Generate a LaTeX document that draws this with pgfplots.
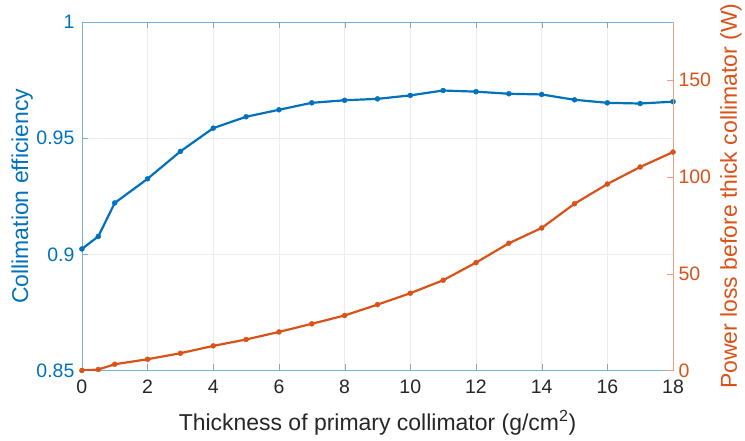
\documentclass[border=0pt]{standalone}
\usepackage{pgfplots}
\pgfplotsset{compat=1.18}
\usepackage{fontspec}
\setmainfont{Liberation Sans}
\definecolor{mblue}{RGB}{0,114,189}
\definecolor{morange}{RGB}{217,83,25}
\definecolor{tickgray}{RGB}{38,38,38}

\begin{document}
\begin{tikzpicture}
\pgfplotsset{
  common/.style={
    scale only axis, width=592pt, height=349pt,
    xmin=0, xmax=18, xtick={0,2,...,18},
    tick align=inside, major tick length=6pt,
    tick label style={font=\fontsize{19.5}{22}\selectfont,
      /pgf/number format/assume math mode=true},
    label style={font=\fontsize{23}{27}\selectfont},
  }
}
\begin{axis}[common,
  ymin=0.85, ymax=1, ytick={0.85,0.9,0.95,1},
  yticklabels={0.85,0.9,0.95,1},
  ytick pos=left,
  xmajorgrids, ymajorgrids,
  grid style={gray!15, line width=0.5pt},
  x axis line style={gray!75},
  y axis line style={mblue!55},
  xtick style={gray!75},
  ytick style={mblue!55},
  xticklabel style={text=tickgray, yshift=-6pt},
  yticklabel style={text=mblue, xshift=-4pt},
  xlabel={Thickness of primary collimator (g/cm\textsuperscript{2})},
  xlabel style={text=tickgray, at={(axis description cs:0.5,-0.149)}, anchor=center},
  ylabel={Collimation efficiency},
  ylabel style={text=mblue, at={(axis description cs:-0.101,0.5)}, anchor=center},
]
\coordinate (O) at (rel axis cs:0,0);
\addplot[mblue, line width=2.2pt, mark=*, mark size=2.5pt,
  mark options={solid, line width=0.4pt}] coordinates {
  (0,0.9023) (0.5,0.9077) (1,0.9221) (2,0.9325) (3,0.9443) (4,0.9543)
  (5,0.9592) (6,0.9622) (7,0.9652) (8,0.9663) (9,0.9669) (10,0.9684)
  (11,0.9705) (12,0.9700) (13,0.9691) (14,0.9688) (15,0.9665) (16,0.9652)
  (17,0.9649) (18,0.9657)
};
\end{axis}
\begin{axis}[common,
  axis x line=none,
  axis y line*=right,
  ymin=0, ymax=180, ytick={0,50,100,150},
  y axis line style={morange!55},
  ytick style={morange!55},
  yticklabel style={text=morange, xshift=2pt},
  ylabel={Power loss before thick collimator (W)},
  ylabel style={text=morange, at={(axis description cs:1.098,0.5)}, anchor=center, rotate=0},
]
\addplot[morange, line width=2.2pt, mark=*, mark size=2.5pt,
  mark options={solid, line width=0.4pt}] coordinates {
  (0,0) (0.5,0.5) (1,3.2) (2,5.8) (3,8.9) (4,12.7) (5,16.0) (6,19.9)
  (7,24.1) (8,28.4) (9,34.0) (10,39.9) (11,46.6) (12,55.7) (13,65.7)
  (14,73.6) (15,86.1) (16,96.3) (17,105.1) (18,112.8)
};
\end{axis}
\path (O) ++(-82pt,-70pt) rectangle ++(745pt,441pt);
\end{tikzpicture}
\end{document}
